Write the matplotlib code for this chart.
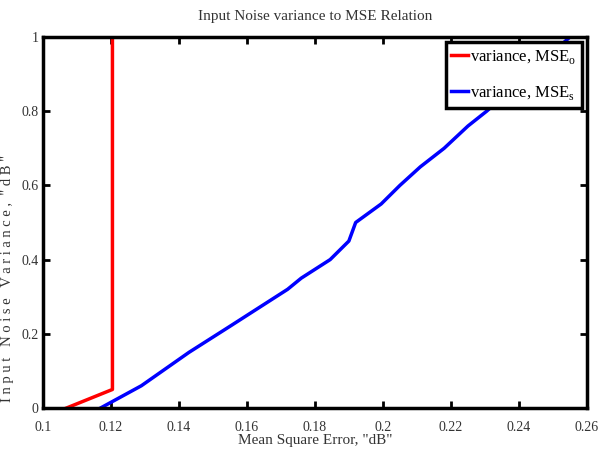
import numpy as np
import matplotlib.pyplot as plt

# values
mse_o = [0.107, 0.1205, 0.1205]
var_o = [0.0, 0.05, 1.0]

mse_s = [0.117, 0.129, 0.143, 0.155, 0.172, 0.176, 0.1845, 0.190, 0.192,
         0.1995, 0.205, 0.211, 0.218, 0.225, 0.2305, 0.255]
var_s = [0.0, 0.06, 0.15, 0.22, 0.32, 0.35, 0.40, 0.45, 0.50,
         0.55, 0.60, 0.65, 0.70, 0.76, 0.80, 1.0]

xticks = [0.1, 0.12, 0.14, 0.16, 0.18, 0.2, 0.22, 0.24, 0.26]
xtick_labels = ["0.1", "0.12", "0.14", "0.16", "0.18", "0.2", "0.22", "0.24", "0.26"]
yticks = [0, 0.2, 0.4, 0.6, 0.8, 1]
ytick_labels = ["0", "0.2", "0.4", "0.6", "0.8", "1"]

plt.rcParams["font.family"] = ["Liberation Serif", "DejaVu Serif"]
plt.rcParams["mathtext.fontset"] = "custom"
plt.rcParams["mathtext.rm"] = "Liberation Serif"

fig = plt.figure(figsize=(5.98, 4.5), dpi=100)
ax = fig.add_axes([0.0714, 0.0933, 0.9102, 0.8245])

ax.plot(mse_o, var_o, color="red", linewidth=2.5, label=r"variance, MSE$_\mathrm{o}$")
ax.plot(mse_s, var_s, color="blue", linewidth=2.5, label=r"variance, MSE$_\mathrm{s}$")

ax.set_xlim(0.1, 0.26)
ax.set_ylim(0, 1)
ax.set_xticks(xticks)
ax.set_xticklabels(xtick_labels, fontsize=10, color="#333333")
ax.set_yticks(yticks)
ax.set_yticklabels(ytick_labels, fontsize=10, color="#333333")
ax.tick_params(direction="in", length=5, width=2, top=True, right=True)
ax.tick_params(axis="x", pad=9)
ax.tick_params(axis="y", pad=3)

for sp in ax.spines.values():
    sp.set_linewidth(2.5)

ax.set_title("Input Noise variance to MSE Relation", fontsize=11, color="#333333", pad=12)
ax.set_xlabel('Mean Square Error, "dB"', fontsize=11, color="#333333", labelpad=0)
ax.set_ylabel('I n p u t   N o i s e   V a r i a n c e ,  " d B "', fontsize=10.5,
              color="#333333")
ax.yaxis.set_label_coords(-0.052, 0.35)

leg = ax.legend(loc="upper right", fontsize=12, handlelength=1.0, handletextpad=0.1,
                borderpad=0.35, labelspacing=1.1, fancybox=False, framealpha=1,
                borderaxespad=0.3)
leg.get_frame().set_edgecolor("black")
leg.get_frame().set_linewidth(2.5)

fig.savefig("out.png", dpi=100)
